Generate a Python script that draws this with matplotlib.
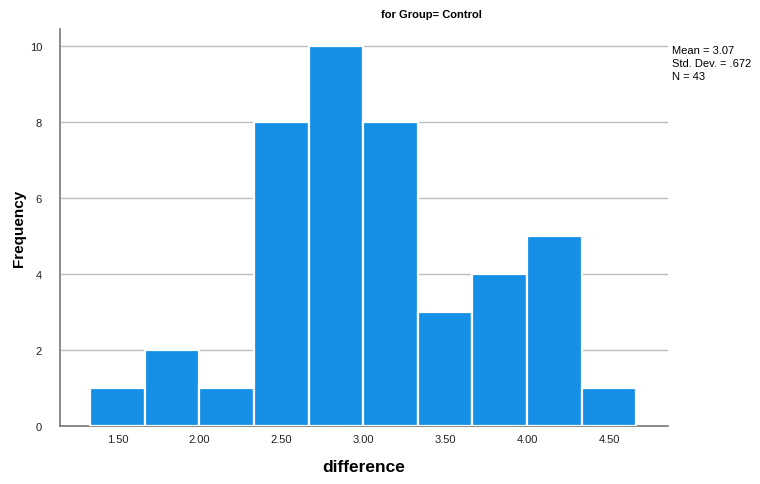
import matplotlib.pyplot as plt

plt.rcParams["font.family"] = ["Liberation Sans", "DejaVu Sans"]

# histogram of 'difference' for the control group, bins of width 1/3
bin_centers = [1.5, 1.8333, 2.1667, 2.5, 2.8333, 3.1667, 3.5, 3.8333, 4.1667, 4.5]
counts = [1, 2, 1, 8, 10, 8, 3, 4, 5, 1]
bin_width = 1 / 3

x_ticks = [1.5, 2.0, 2.5, 3.0, 3.5, 4.0, 4.5]
y_ticks = [0, 2, 4, 6, 8, 10]

stats_text = "Mean = 3.07\nStd. Dev. = .672\nN = 43"

fig = plt.figure(figsize=(7.6, 4.85), dpi=100)
ax = fig.add_axes([0.079, 0.12, 0.80, 0.818])

ax.bar(bin_centers, counts, width=bin_width, color="#1590e6",
       edgecolor="white", linewidth=1.6, zorder=3)

ax.set_xlim(1.15, 4.86)
ax.set_ylim(0, 10.45)
ax.set_xticks(x_ticks)
ax.set_xticklabels([f"{v:.2f}" for v in x_ticks])
ax.set_yticks(y_ticks)
ax.tick_params(length=0, labelsize=8, colors="#222222")
ax.tick_params(axis="y", pad=13)
ax.tick_params(axis="x", pad=6)

ax.grid(axis="y", color="#bdbdbd", linewidth=1.0, zorder=0)
for s in ["top", "right"]:
    ax.spines[s].set_visible(False)
for s in ["left", "bottom"]:
    ax.spines[s].set_color("#777777")
    ax.spines[s].set_linewidth(1.2)

ax.set_xlabel("difference", fontsize=12.5, fontweight="bold", labelpad=11)
ax.set_ylabel("Frequency", fontsize=11, fontweight="bold", labelpad=2.5)

fig.text(431 / 760, 1 - 15 / 485, "for Group= Control", ha="center",
         va="center", fontsize=8, fontweight="bold")
fig.text(672 / 760, 1 - 46 / 485, stats_text, ha="left", va="top",
         fontsize=8, linespacing=1.4)

fig.savefig("out.png", dpi=100)
